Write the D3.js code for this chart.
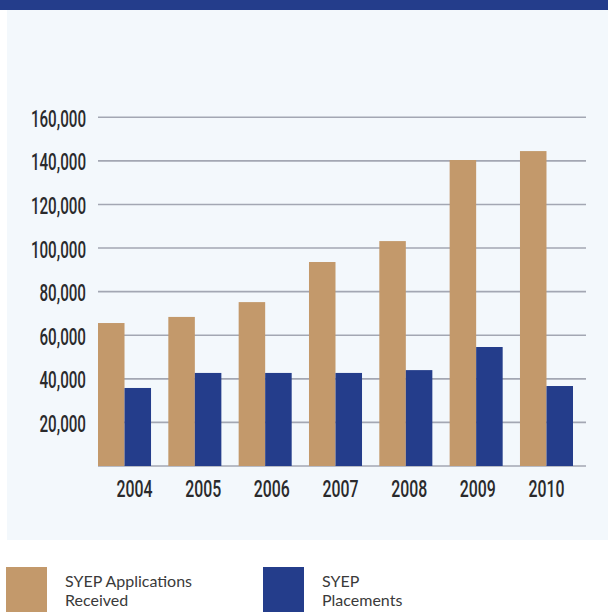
<!DOCTYPE html>
<html>
<head>
<meta charset="utf-8">
<script src="https://cdn.jsdelivr.net/npm/d3@7/dist/d3.min.js"></script>
<style>
  html, body { margin: 0; padding: 0; background: #ffffff; }
  svg { display: block; }
</style>
</head>
<body>
<svg id="chart" width="608" height="612"></svg>
<script>
// Summer Youth Employment Program, 2004–2010
const years = ["2004", "2005", "2006", "2007", "2008", "2009", "2010"];
const applications = [65600, 68400, 75200, 93600, 103200, 140400, 144500];
const placements = [35800, 42700, 42700, 42700, 44000, 54600, 36700];
const seriesNames = ["SYEP Applications Received", "SYEP Placements"];
const yTicks = [20000, 40000, 60000, 80000, 100000, 120000, 140000, 160000];

const colors = { applications: "#c3996b", placements: "#243d8b" };

const svg = d3.select("#chart");

// header band and light panel
svg.append("rect").attr("x", 0).attr("y", 0).attr("width", 608).attr("height", 10).attr("fill", "#243d8b");
svg.append("rect").attr("x", 7).attr("y", 10).attr("width", 601).attr("height", 530).attr("fill", "#f3f8fc");

const y = d3.scaleLinear().domain([0, 160000]).range([466, 117.3]);

const x0 = d3.scaleBand().domain(years).range([98, 573]).paddingInner(0.246).paddingOuter(0);
const x1 = d3.scaleBand().domain(["applications", "placements"]).range([0, x0.bandwidth()]).padding(0);
const xLabel = d3.scalePoint().domain(years).range([134.5, 546.5]);

// gridlines
const gridX1 = 98, gridX2 = 586;
svg.append("g").selectAll("line")
  .data([0].concat(yTicks))
  .join("line")
  .attr("x1", gridX1).attr("x2", gridX2)
  .attr("y1", d => y(d)).attr("y2", d => y(d))
  .attr("stroke", "#a3a7b3").attr("stroke-width", 1.6);

// y tick labels (condensed numerals)
const fmt = d3.format(",");
svg.append("g").selectAll("text")
  .data(yTicks)
  .join("text")
  .attr("transform", d => `translate(86,${y(d) + 9.6}) scale(0.66,1)`)
  .attr("text-anchor", "end")
  .attr("font-family", "Roboto, 'Liberation Sans', sans-serif")
  .attr("font-weight", 500)
  .attr("font-size", 23)
  .attr("fill", "#2a2a2c")
  .text(d => fmt(d));

// bars
const groups = svg.append("g").selectAll("g")
  .data(years.map((yr, i) => ({ year: yr, applications: applications[i], placements: placements[i] })))
  .join("g")
  .attr("transform", d => `translate(${x0(d.year)},0)`);

groups.selectAll("rect")
  .data(d => ["applications", "placements"].map(k => ({ key: k, value: d[k] })))
  .join("rect")
  .attr("x", d => x1(d.key))
  .attr("y", d => y(d.value))
  .attr("width", x1.bandwidth())
  .attr("height", d => y(0) - y(d.value))
  .attr("fill", d => colors[d.key]);

// year labels
svg.append("g").selectAll("text")
  .data(years)
  .join("text")
  .attr("transform", d => `translate(${xLabel(d)},497) scale(0.66,1)`)
  .attr("text-anchor", "middle")
  .attr("font-family", "Roboto, 'Liberation Sans', sans-serif")
  .attr("font-weight", 500)
  .attr("font-size", 24)
  .attr("fill", "#2a2a2c")
  .text(d => d);

// legend
const legend = [
  { key: "applications", x: 6, lines: ["SYEP Applications", "Received"] },
  { key: "placements", x: 263, lines: ["SYEP", "Placements"] }
];
const lg = svg.append("g").selectAll("g").data(legend).join("g")
  .attr("transform", d => `translate(${d.x},567)`);
lg.append("rect").attr("width", 41).attr("height", 45).attr("fill", d => colors[d.key]);
lg.append("text")
  .attr("font-family", "Lato, 'Open Sans', sans-serif")
  .attr("font-size", 16)
  .attr("fill", "#3a3a3a")
  .selectAll("tspan")
  .data(d => d.lines)
  .join("tspan")
  .attr("x", 59)
  .attr("y", (d, i) => 20 + i * 19)
  .text(d => d);
</script>
</body>
</html>
